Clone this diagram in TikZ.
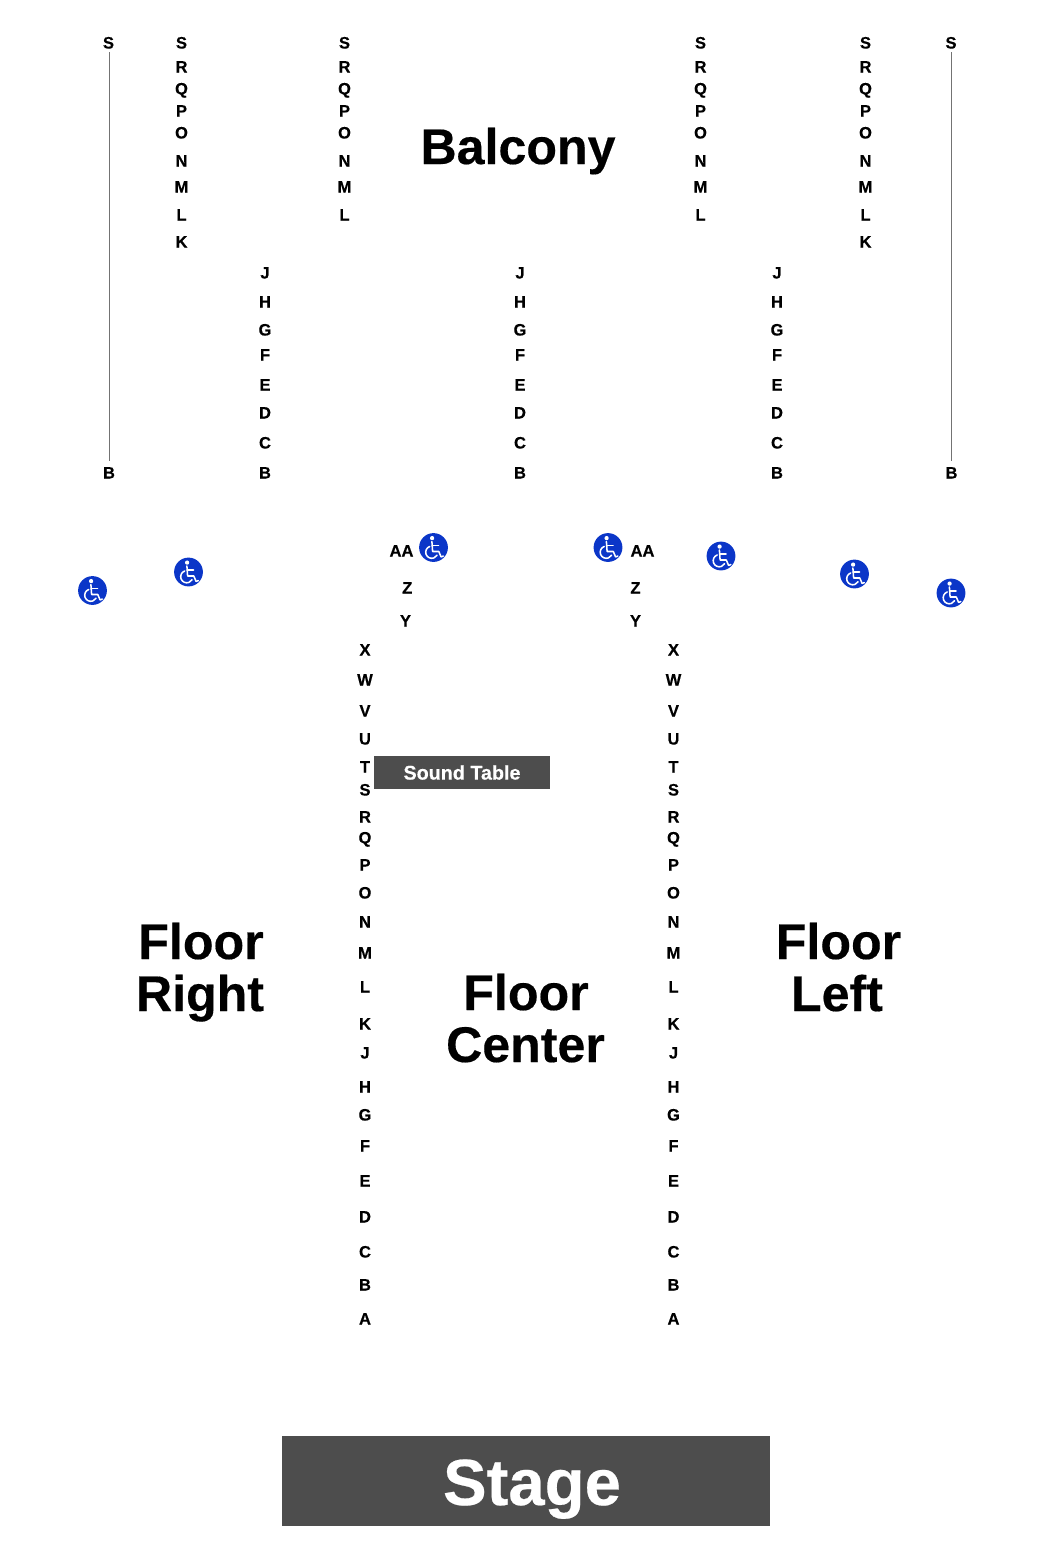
\documentclass[tikz,border=0pt]{standalone}
\usepackage{fontspec}
\setmainfont[BoldFeatures={FakeBold=0.35}]{Liberation Sans}
\definecolor{blockgray}{HTML}{4D4D4D}
\definecolor{wcblue}{HTML}{0B36C8}
\tikzset{
  seat/.style={font=\fontsize{12.4}{12.4}\selectfont\bfseries,inner sep=0pt,anchor=base},
  big/.style={font=\fontsize{37.6}{37.6}\selectfont\bfseries,inner sep=0pt,anchor=base,text=black},
  block/.style={fill=blockgray,draw=none,inner sep=0pt,text=white},
  aisle/.style={draw=black!55,line width=0.6pt},
  wcdisc/.style={circle,fill=wcblue,draw=none,minimum size=21.6pt,inner sep=0pt},
  wcline/.style={draw=white,line width=1.15pt,line cap=round,line join=round},
  wheelchair/.pic={
    \fill[white] (-1.4,-9.4) circle[radius=1.6pt];
    \draw[wcline] (-1.6,-6) -- (-0.9,4) -- (5.3,4) -- (7.6,9.4) -- (9.8,8.6);
    \draw[wcline] (-1.3,-1.8) -- (5,-1.8);
    \draw[wcline] (-3.8,-1.03) arc[start angle=110,end angle=330,radius=4.575pt];
  }
}
\begin{document}
\begin{tikzpicture}[x=0.75pt,y=-0.75pt]
\useasboundingbox (0,0) rectangle (1050,1546);

% balcony long columns (with K)
\foreach \cx/\ox in {181.5/a,865.5/d}{
  \foreach \t/\y in {S/48.5,R/72.5,Q/94.5,P/116.5,O/138.5,N/166.5,M/192.5,L/220.5,K/247.5}
    \node[seat] (bal\ox\t) at (\cx,\y) {\t};
}
% balcony short columns
\foreach \cx/\ox in {344.5/b,700.5/c}{
  \foreach \t/\y in {S/48.5,R/72.5,Q/94.5,P/116.5,O/138.5,N/166.5,M/192.5,L/220.5}
    \node[seat] (bal\ox\t) at (\cx,\y) {\t};
}
% balcony lower columns
\foreach \cx/\ox in {265/e,520/f,777/g}{
  \foreach \t/\y in {J/278.5,H/307.5,G/335.5,F/360.5,E/390.5,D/418.5,C/448.5,B/478.5}
    \node[seat] (bal\ox\t) at (\cx,\y) {\t};
}
% outer aisles
\node[seat] (outlS) at (108.5,48.5) {S};
\node[seat] (outlB) at (109,478.5) {B};
\node[seat] (outrS) at (951,48.5) {S};
\node[seat] (outrB) at (951.5,478.5) {B};
\coordinate (lt) at (109,52);
\coordinate (lb) at (109,461);
\coordinate (rt) at (951,52);
\coordinate (rb) at (951,461);
\draw[aisle] (lt) -- (lb);
\draw[aisle] (rt) -- (rb);

% floor columns
\foreach \cx/\ox in {365/l,673.5/r}{
  \foreach \t/\y in {X/655.5,W/685.5,V/716.5,U/744.5,T/772.5,S/795.5,R/822.5,Q/843.5,P/870.5,O/898.5,N/927.5,M/958.5,L/992.5,K/1029.5,J/1058.5,H/1092.5,G/1120.5,F/1151.5,E/1186.5,D/1222.5,C/1257.5,B/1290.5,A/1324.5}
    \node[seat] (fl\ox\t) at (\cx,\y) {\t};
}
\node[seat] (lAA) at (401.5,556.5) {AA};
\node[seat] (lZ) at (407.3,593.5) {Z};
\node[seat] (lY) at (405.5,626.5) {Y};
\node[seat] (rAA) at (642.5,556.5) {AA};
\node[seat] (rZ) at (635.5,593.5) {Z};
\node[seat] (rY) at (635.5,626.5) {Y};

% wheelchair markers
\foreach \n/\x/\y in {a/92.5/590.5,b/188.5/572,c/433.5/547.5,d/608/547.5,e/721/556,f/854.5/574,g/951/593}{
  \node[wcdisc] (wc\n) at (\x,\y) {};
  \pic at (\x,\y) {wheelchair};
}

% sound table
\node[block,minimum width=132pt,minimum height=24.4pt,font=\fontsize{14.8}{14.8}\selectfont\bfseries] (sound) at (462,772.5) {Sound Table};

% stage
\fill[blockgray] (282,1436) rectangle (770,1526);
\node[big,text=white,font=\fontsize{49}{49}\selectfont\bfseries] (stage) at (532,1505) {Stage};

% section labels
\node[big] (balcony) at (518,164) {Balcony};
\node[big] (fr1) at (201,959) {Floor};
\node[big] (fr2) at (200,1011) {Right};
\node[big] (fc1) at (526,1010) {Floor};
\node[big] (fc2) at (525.5,1062) {Center};
\node[big] (fl1) at (838.5,959) {Floor};
\node[big] (fl2) at (837,1011) {Left};
\end{tikzpicture}
\end{document}
